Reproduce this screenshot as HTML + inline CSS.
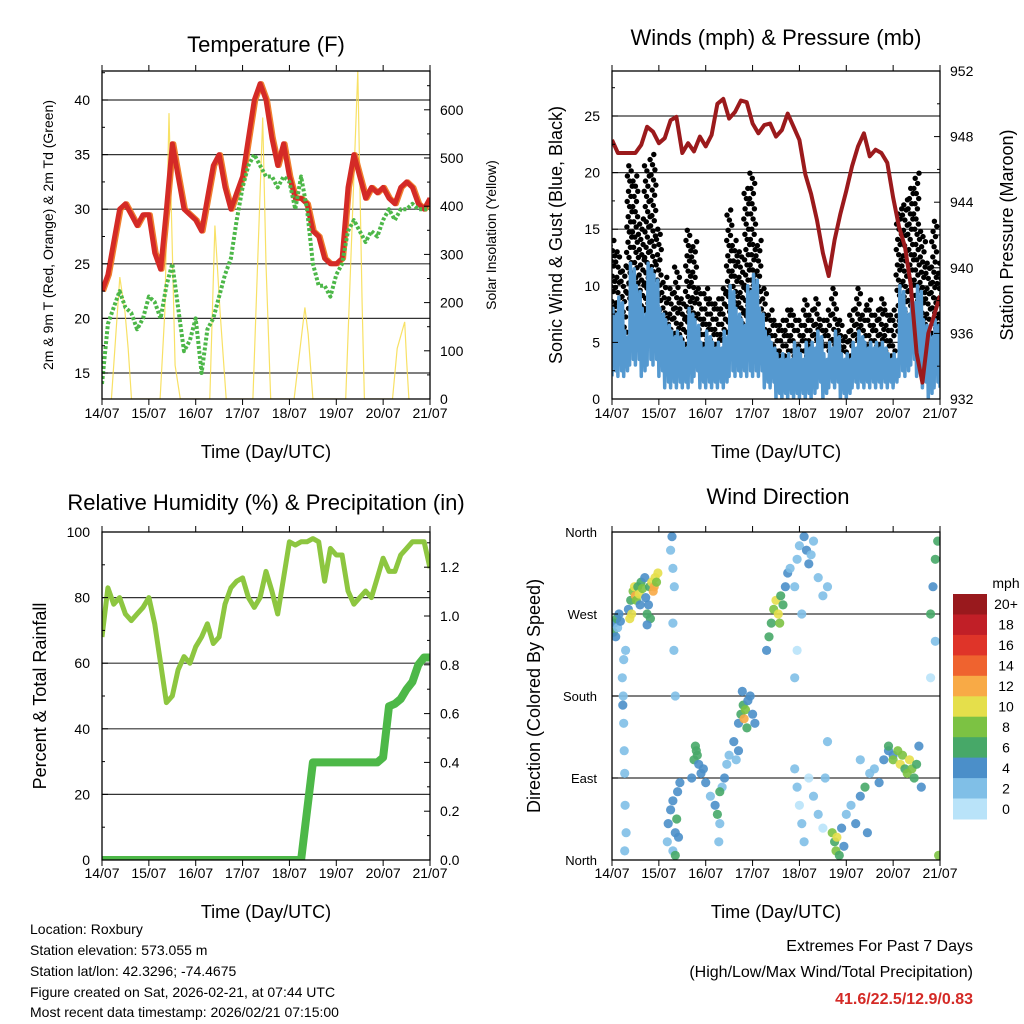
<!DOCTYPE html>
<html><head><meta charset="utf-8"><style>
html,body{margin:0;padding:0;background:#fff;}
svg{display:block;font-family:"Liberation Sans",sans-serif;}
</style></head><body>
<svg id="c" width="1024" height="1024" viewBox="0 0 1024 1024" xmlns="http://www.w3.org/2000/svg"></svg>
<script>
// ---------- DATA (3-hourly, day 0 = 14/07 00 UTC) ----------
const dayLabels = ["14/07","15/07","16/07","17/07","18/07","19/07","20/07","21/07"];
const tempRed = [22.5,24,27,30,30.5,29.5,28.5,29.5,29.5,26,24.5,30,36,33,30,29.5,29,28,31,34,35,32,30,31.5,33,36.5,40,41.5,40,36.5,34,36,33,31,31,30.5,28,27.5,25.5,25,25,25.5,32,35,33,31,32,31.5,32,31,30.5,32,32.5,32,30.5,30,31];
const dewGreen = [14,19.5,21,22.5,21,20.5,19,20,22,21.5,20,23,25,21,17,18,20,15,19,20,22,24,25.5,29,32,34,35,34,33,33,32,33,32.5,30,33,30,25,23,23,22,24,25,28,29,28,27,28,27.5,29,30,29,30,30,30.5,30,30,30];
const solarT = [0.2,0.38,0.49,0.56,0.63, 1.24,1.34,1.43,1.56,1.67, 2.3,2.41,2.52,2.65, 3.22,3.43,3.5,3.6, 4.1,4.33,4.4,4.5, 5.2,5.46,5.55,5.6, 6.2,6.3,6.46,6.5,6.55];
const solarW = [0,253,180,104,0, 0,180,593,70,0, 0,360,180,0, 0,584,280,0, 0,190,134,0, 0,680,200,0, 0,105,160,80,0];
const pressure = [947.8,947,947,947,947,947.5,948.6,948.3,947.6,947.9,949,949.2,947,947.6,947.1,948,947.4,948.1,950,950.3,949.1,949.5,950.2,950.1,948.8,948.2,948.7,948.8,948,948.4,949.4,948.6,947.8,945.7,944.5,942.9,940.9,939.5,941.7,943.3,944.7,946.2,947.4,948.2,946.8,947.2,947,946.4,944.3,942.5,941.3,939,934.8,933,936,937.1,938.3];
const windLo = [2,2,2,3,3,2,3,3,2,1,1,1,1,1,2,1,1,1,1,1,2,2,2,2,2,2,1,1,0,0,0,0,0,0,0,1,0,1,1,0,0,1,1,1,1,1,1,1,1,2,2,3,2,1,0,1,1];
const windHi = [8,9,6,12,10,8,12,11,8,7,6,6,5,8,7,5,6,5,5,6,10,8,7,10,11,8,6,5,4,4,4,5,4,5,5,6,4,5,6,4,4,5,6,5,5,5,5,4,4,10,8,9,10,7,6,7,6];
const gustLo = [5,4,5,8,8,6,8,9,6,4,3,4,3,5,4,3,3,3,3,3,5,5,4,6,6,5,3,2,2,2,2,2,2,2,2,3,2,2,3,2,1,2,3,2,2,2,3,2,2,6,5,6,6,4,3,4,3];
const gustHi = [14,13,12,21,20,16,21,22,15,11,10,12,9,15,14,10,10,9,9,10,17,14,13,19,20,14,10,8,7,7,8,8,7,9,8,9,7,8,10,7,6,8,10,8,9,8,9,8,8,17,18,19,20,15,12,16,12];
const humidity = [68,83,78,80,75,73,75,77,80,72,60,48,50,58,62,60,65,68,72,66,68,78,83,85,86,80,77,80,88,82,75,86,97,96,97,97,98,97,85,95,93,93,82,78,80,82,80,86,92,88,88,93,95,97,97,97,89];
const precip = [0,0,0,0,0,0,0,0,0,0,0,0,0,0,0,0,0,0,0,0,0,0,0,0,0,0,0,0,0,0,0,0,0,0,0,0.2,0.4,0.4,0.4,0.4,0.4,0.4,0.4,0.4,0.4,0.4,0.4,0.4,0.42,0.63,0.64,0.66,0.7,0.73,0.8,0.83,0.83];
const wdTime = [0.03,0.05,0.08,0.1,0.12,0.15,0.18, 0.22,0.24,0.25,0.26,0.27,0.28,0.3,0.25,0.23,0.27,0.29,
 0.35,0.4,0.45,0.48,0.5,0.52,0.55,0.58,0.6,0.62,0.65,0.7,0.72,0.75,0.78,0.8,0.85,0.88,0.9,0.92,0.95,0.98,0.82,0.75,0.42,0.38,
 1.25,1.28,1.3,1.33,1.3,1.32,1.35, 1.18,1.2,1.25,1.3,1.35,1.38,1.4,1.45,1.3,1.35,1.42,
 1.7,1.75,1.8,1.85,1.9,1.95,2.0,1.78,1.82, 2.1,2.2,2.25,2.3,2.35,2.4,2.45,2.5,2.28,2.3,
 2.7,2.75,2.8,2.82,2.85,2.9,2.95,3.0,3.05,2.78,2.88, 2.6,2.65,2.7,
 3.3,3.35,3.4,3.45,3.5,3.55,3.6,3.65,3.7,3.75,3.8,3.58,
 3.9,3.95,4.0,4.1,4.15,4.2,4.3,4.4,4.5,4.6,4.25,3.9,3.95,4.05,
 3.9,3.95,4.0,4.05,4.1,4.2,4.3,4.4,4.5,4.55,4.6,
 4.7,4.75,4.78,4.8,4.85,4.9,4.95,5.0,
 5.1,5.2,5.3,5.4,5.5,5.6,5.7,5.8,5.9,6.0,5.45,5.3,
 5.9,6.0,6.1,6.15,6.2,6.25,6.3,6.35,6.4,6.45,6.5,6.55,6.6,
 6.8,6.85,6.9,6.95,6.9,6.8,6.97];
const wdDir = [250,260,245,265,255,270,262, 200,180,150,120,95,60,30,220,170,10,230,
 275,285,295,300,290,285,300,292,280,305,298,310,288,270,280,300,305,295,300,310,305,315,265,258,270,265,
 340,355,320,300,260,230,180, 20,40,55,65,30,45,75,85,10,5,25,
 90,110,120,105,95,100,85,125,115, 70,60,50,40,80,90,105,115,20,75,
 150,160,170,155,165,175,180,160,150,185,145, 130,110,120,
 230,245,260,275,285,270,290,280,300,315,320,260,
 300,330,345,355,340,325,350,310,290,300,335,200,230,270,
 100,80,60,40,20,90,70,50,35,90,130,
 30,20,10,25,5,35,15,50,
 60,40,70,80,95,100,85,110,120,115,30,110,
 125,110,120,105,115,100,95,110,100,90,105,125,80,
 270,300,330,350,240,200,5];
const wdSpeed = [6,5,4,6,3,4,5, 2,2,2,2,3,2,2,3,4,2,2,
 4,6,8,10,12,8,6,10,4,6,8,4,4,6,4,6,10,12,12,10,8,10,6,4,10,10,
 2,4,3,2,2,2,2, 2,4,4,4,4,6,4,4,2,6,4,
 4,6,6,4,4,4,4,6,6, 2,4,6,2,2,4,2,2,2,6,
 4,6,6,12,8,4,4,4,4,4,6, 4,2,4,
 4,6,6,8,10,10,6,6,4,4,2,8,
 2,2,2,4,4,4,2,2,2,2,2,2,0,2,
 2,2,0,2,2,0,2,2,0,2,2,
 8,6,8,10,6,4,4,2,
 2,4,4,6,2,2,4,4,4,4,4,2,
 6,8,8,10,8,6,8,10,8,6,6,4,4,
 6,4,6,6,2,0,8];
const speedLabels = ["0","2","4","6","8","10","12","14","16","18","20+"];
const speedColors = ["#b9e3f9","#80bfe7","#4b8fc9","#47a868","#7cc243","#e5df4b","#f8aa46","#ef632f","#df3429","#c11f27","#99191d"];

// ---------- SCALES ----------
const xA = d => 102 + d*46.857;
const xB = d => 612 + d*46.857;
const yT = v => 399 - (v-12.62)*10.92;
const yS = w => 399 - w*0.482;
const yW = v => 399 - v*11.32;
const yP = p => 399 - (p-932)*16.4;
const yH = v => 860 - v*3.28;
const yR = r => 860 - r*244;
const yD = d => 860 - d*0.9111;
const tAt = i => i*0.125;

const NS = "http://www.w3.org/2000/svg";
const svg = document.getElementById('c');
function mk(tag, attrs, parent){
  const e = document.createElementNS(NS, tag);
  for (const k in attrs) e.setAttribute(k, attrs[k]);
  (parent||svg).appendChild(e); return e;
}
function txt(s, x, y, size, anchor, parent, extra){
  const e = mk('text', Object.assign({x:x, y:y, 'font-size':size, 'text-anchor':anchor||'middle', fill:'#000'}, extra||{}), parent);
  e.textContent = s; return e;
}
function group(name){
  const g = mk('g', {});
  
  
  return g;
}
function gridH(g, x0, x1, ys){
  ys.forEach(y=>{ mk('line',{x1:x0,x2:x1,y1:y,y2:y,stroke:'#333','stroke-width':1.2}, g); });
}
function box(g,x0,y0,w,h){
  const r = mk('rect',{x:x0,y:y0,width:w,height:h,fill:'none',stroke:'#000','stroke-width':1.3}, g);
  
  
}
function xTicks(g, xf, y0, y1, yLab){
  dayLabels.forEach((l,i)=>{
    const x = xf(i);
    mk('line',{x1:x,x2:x,y1:y1,y2:y1-6,stroke:'#000','stroke-width':1}, g);
    mk('line',{x1:x,x2:x,y1:y0,y2:y0+6,stroke:'#000','stroke-width':1}, g);
    const t = txt(l, x, yLab, 14, 'middle', g);
    
    
  });
}
function yTicks(g, vals, yf, xEdge, dir, labels, minor){
  vals.forEach((v,i)=>{
    const y = yf(v);
    mk('line',{x1:xEdge,x2:xEdge+dir*6,y1:y,y2:y,stroke:'#000','stroke-width':1}, g);
    if (labels){
      const t = txt(labels[i], dir>0 ? xEdge-12 : xEdge+10, y+5, 14, dir>0?'end':'start', g);
      
      
    }
  });
  (minor||[]).forEach(v=>{ const y=yf(v); mk('line',{x1:xEdge,x2:xEdge+dir*3,y1:y,y2:y,stroke:'#000','stroke-width':1}, g); });
}
function pathFrom(xs, ys){ return xs.map((x,i)=>(i?'L':'M')+x.toFixed(1)+' '+ys[i].toFixed(1)).join(''); }

// ---------- PANEL 1: TEMPERATURE ----------
(function(){
  const g = group('temperature-panel');
  const cp = mk('clipPath',{id:'cp1'},g); mk('rect',{x:102,y:71,width:328,height:328},cp);
  gridH(g,102,430,[15,20,25,30,35,40].map(yT));
  const pg = mk('g',{'clip-path':'url(#cp1)'},g);
  const sol = mk('path',{d:pathFrom(solarT.map(xA), solarW.map(yS)),fill:'none',stroke:'#f7dc4a','stroke-width':1.2,opacity:0.85},pg);
   
  const org = mk('path',{d:pathFrom(tempRed.map((v,i)=>xA(tAt(i))+1.5), tempRed.map(yT)),fill:'none',stroke:'#f07f2e','stroke-width':5,'stroke-linejoin':'round'},pg);
   
  const red = mk('path',{d:pathFrom(tempRed.map((v,i)=>xA(tAt(i))), tempRed.map(yT)),fill:'none',stroke:'#d42a26','stroke-width':5,'stroke-linejoin':'round'},pg);
   
  const dew = mk('path',{d:pathFrom(dewGreen.map((v,i)=>xA(tAt(i))), dewGreen.map(yT)),fill:'none',stroke:'#4cb748','stroke-width':4,'stroke-dasharray':'3 2','stroke-linejoin':'round'},pg);
   
  box(g,102,71,328,328);
  xTicks(g,xA,399,71,418);
  yTicks(g,[15,20,25,30,35,40],yT,102,1,["15","20","25","30","35","40"],[17.5,22.5,27.5,32.5,37.5,42.5]);
  yTicks(g,[0,100,200,300,400,500,600],yS,430,-1,["0","100","200","300","400","500","600"],[50,150,250,350,450,550,650]);
  let t = txt('Temperature (F)',266,52,22,'middle',g);  
  t = txt('2m & 9m T (Red, Orange) & 2m Td (Green)',0,0,14,'middle',g,{transform:'translate(53,235) rotate(-90)'});  
  t = txt('Solar Insolation (Yellow)',0,0,14,'middle',g,{transform:'translate(496,235) rotate(-90)'});  
  t = txt('Time (Day/UTC)',266,458,18,'middle',g);  
})();

// ---------- PANEL 2: WINDS ----------
(function(){
  const g = group('winds-panel');
  gridH(g,612,940,[5,10,15,20,25].map(yW));
  const cp = mk('clipPath',{id:'cp2'},g); mk('rect',{x:612,y:71,width:328,height:328},cp);
  const pg = mk('g',{'clip-path':'url(#cp2)'},g);
  const gg = mk('g',{},pg);  
  gustLo.forEach((lo,i)=>{
    const hi = gustHi[i];
    let n = 0;
    for (let v=lo; v<=hi; v+=0.45){
      n++;
      const off = (((n*37 + i*13) % 23) / 22 - 0.5) * 0.125;
      mk('circle',{cx:xB(tAt(i)+off).toFixed(1),cy:yW(v).toFixed(1),r:2.7,fill:'#000'},gg);
    }
  });
  const bx=[], by=[];
  windLo.forEach((lo,i)=>{ const t0=tAt(i);
    [[0,lo],[0.02,windHi[i]],[0.04,(lo+windHi[i])/2],[0.06,windHi[i]-1],[0.08,lo+0.5],[0.1,windHi[i]-0.5]].forEach(p=>{ if(t0+p[0]<=7.0){bx.push(xB(t0+p[0])); by.push(yW(p[1]));} });
  });
  const wl = mk('path',{d:pathFrom(bx,by),fill:'none',stroke:'#5599d0','stroke-width':3.5,'stroke-linejoin':'round'},pg);
   
  const pl = mk('path',{d:pathFrom(pressure.map((v,i)=>xB(tAt(i))), pressure.map(yP)),fill:'none',stroke:'#9b1a1c','stroke-width':4,'stroke-linejoin':'round'},pg);
   
  box(g,612,71,328,328);
  xTicks(g,xB,399,71,418);
  yTicks(g,[0,5,10,15,20,25],yW,612,1,["0","5","10","15","20","25"],[2.5,7.5,12.5,17.5,22.5,27.5]);
  yTicks(g,[932,936,940,944,948,952],yP,940,-1,["932","936","940","944","948","952"],[934,938,942,946,950]);
  let t = txt('Winds (mph) & Pressure (mb)',776,45,22,'middle',g);  
  t = txt('Sonic Wind & Gust (Blue, Black)',0,0,18,'middle',g,{transform:'translate(562,235) rotate(-90)'});  
  t = txt('Station Pressure (Maroon)',0,0,18,'middle',g,{transform:'translate(1013,235) rotate(-90)'});  
  t = txt('Time (Day/UTC)',776,458,18,'middle',g);  
})();

// ---------- PANEL 3: HUMIDITY ----------
(function(){
  const g = group('humidity-panel');
  gridH(g,102,430,[20,40,60,80].map(yH));
  const cp = mk('clipPath',{id:'cp3'},g); mk('rect',{x:102,y:532,width:328,height:328},cp);
  const pg = mk('g',{'clip-path':'url(#cp3)'},g);
  const hl = mk('path',{d:pathFrom(humidity.map((v,i)=>xA(tAt(i))), humidity.map(yH)),fill:'none',stroke:'#8dc640','stroke-width':5,'stroke-linejoin':'round'},pg);
   
  const rl = mk('path',{d:pathFrom(precip.map((v,i)=>xA(tAt(i))), precip.map(yR)),fill:'none',stroke:'#4db848','stroke-width':8,'stroke-linejoin':'round'},pg);
   
  box(g,102,532,328,328);
  xTicks(g,xA,860,532,878);
  yTicks(g,[0,20,40,60,80,100],yH,102,1,["0","20","40","60","80","100"],[10,30,50,70,90]);
  yTicks(g,[0,0.2,0.4,0.6,0.8,1.0,1.2],yR,430,-1,["0.0","0.2","0.4","0.6","0.8","1.0","1.2"],[0.1,0.3,0.5,0.7,0.9,1.1,1.3]);
  let t = txt('Relative Humidity (%) & Precipitation (in)',266,510,22,'middle',g);  
  t = txt('Percent & Total Rainfall',0,0,18,'middle',g,{transform:'translate(46,696) rotate(-90)'});  
  t = txt('Time (Day/UTC)',266,918,18,'middle',g);  
})();

// ---------- PANEL 4: WIND DIRECTION ----------
(function(){
  const g = group('wind-direction-panel');
  gridH(g,612,940,[90,180,270].map(yD));
  const cp = mk('clipPath',{id:'cp4'},g); mk('rect',{x:612,y:532,width:328,height:328},cp);
  const pg = mk('g',{'clip-path':'url(#cp4)'},g);
  wdTime.forEach((tm,i)=>{
    const bin = Math.min(10, Math.floor(wdSpeed[i]/2));
    const c = mk('circle',{cx:xB(tm).toFixed(1),cy:yD(wdDir[i]).toFixed(1),r:4.6,fill:speedColors[bin],opacity:0.9},pg);
    
    
  });
  box(g,612,532,328,328);
  xTicks(g,xB,860,532,878);
  const dl=["North","East","South","West","North"];
  [0,90,180,270,360].forEach((d,i)=>{
    const y=yD(d);
    mk('line',{x1:612,x2:618,y1:y,y2:y,stroke:'#000'},g);
    const t = txt(dl[i],597,y+5,13,'end',g);  
  });
  let t = txt('Wind Direction',778,504,22,'middle',g);  
  t = txt('Direction (Colored By Speed)',0,0,18,'middle',g,{transform:'translate(540,696) rotate(-90)'});  
  t = txt('Time (Day/UTC)',776,918,18,'middle',g);  
  const cb = group('speed-colorbar');
  t = txt('mph',1006,588,14,'middle',cb);  
  const bh = 225/11;
  for (let k=0;k<11;k++){
    const idx = 10-k;
    const y = 594 + k*bh;
    const r = mk('rect',{x:953,y:y.toFixed(1),width:34,height:(bh+0.5).toFixed(1),fill:speedColors[idx]},cb);
     
    const l = txt(speedLabels[idx],1006,y+bh/2+5,14,'middle',cb);  
  }
})();

// ---------- FOOTER ----------
(function(){
  const g = group('station-info');
  const lines = ["Location: Roxbury","Station elevation: 573.055 m","Station lat/lon: 42.3296; -74.4675","Figure created on Sat, 2026-02-21, at 07:44 UTC","Most recent data timestamp: 2026/02/21 07:15:00"];
  [934,955,976,997,1017].forEach((y,i)=>{ const t=txt(lines[i],30,y,14,'start',g);   });
  const e = group('extremes-summary');
  let t = txt('Extremes For Past 7 Days',973,951,16,'end',e);  
  t = txt('(High/Low/Max Wind/Total Precipitation)',973,977,16,'end',e);  
  t = txt('41.6/22.5/12.9/0.83',973,1004,16,'end',e,{fill:'#d42a26','font-weight':'bold'});  
})();
</script>
</body></html>
